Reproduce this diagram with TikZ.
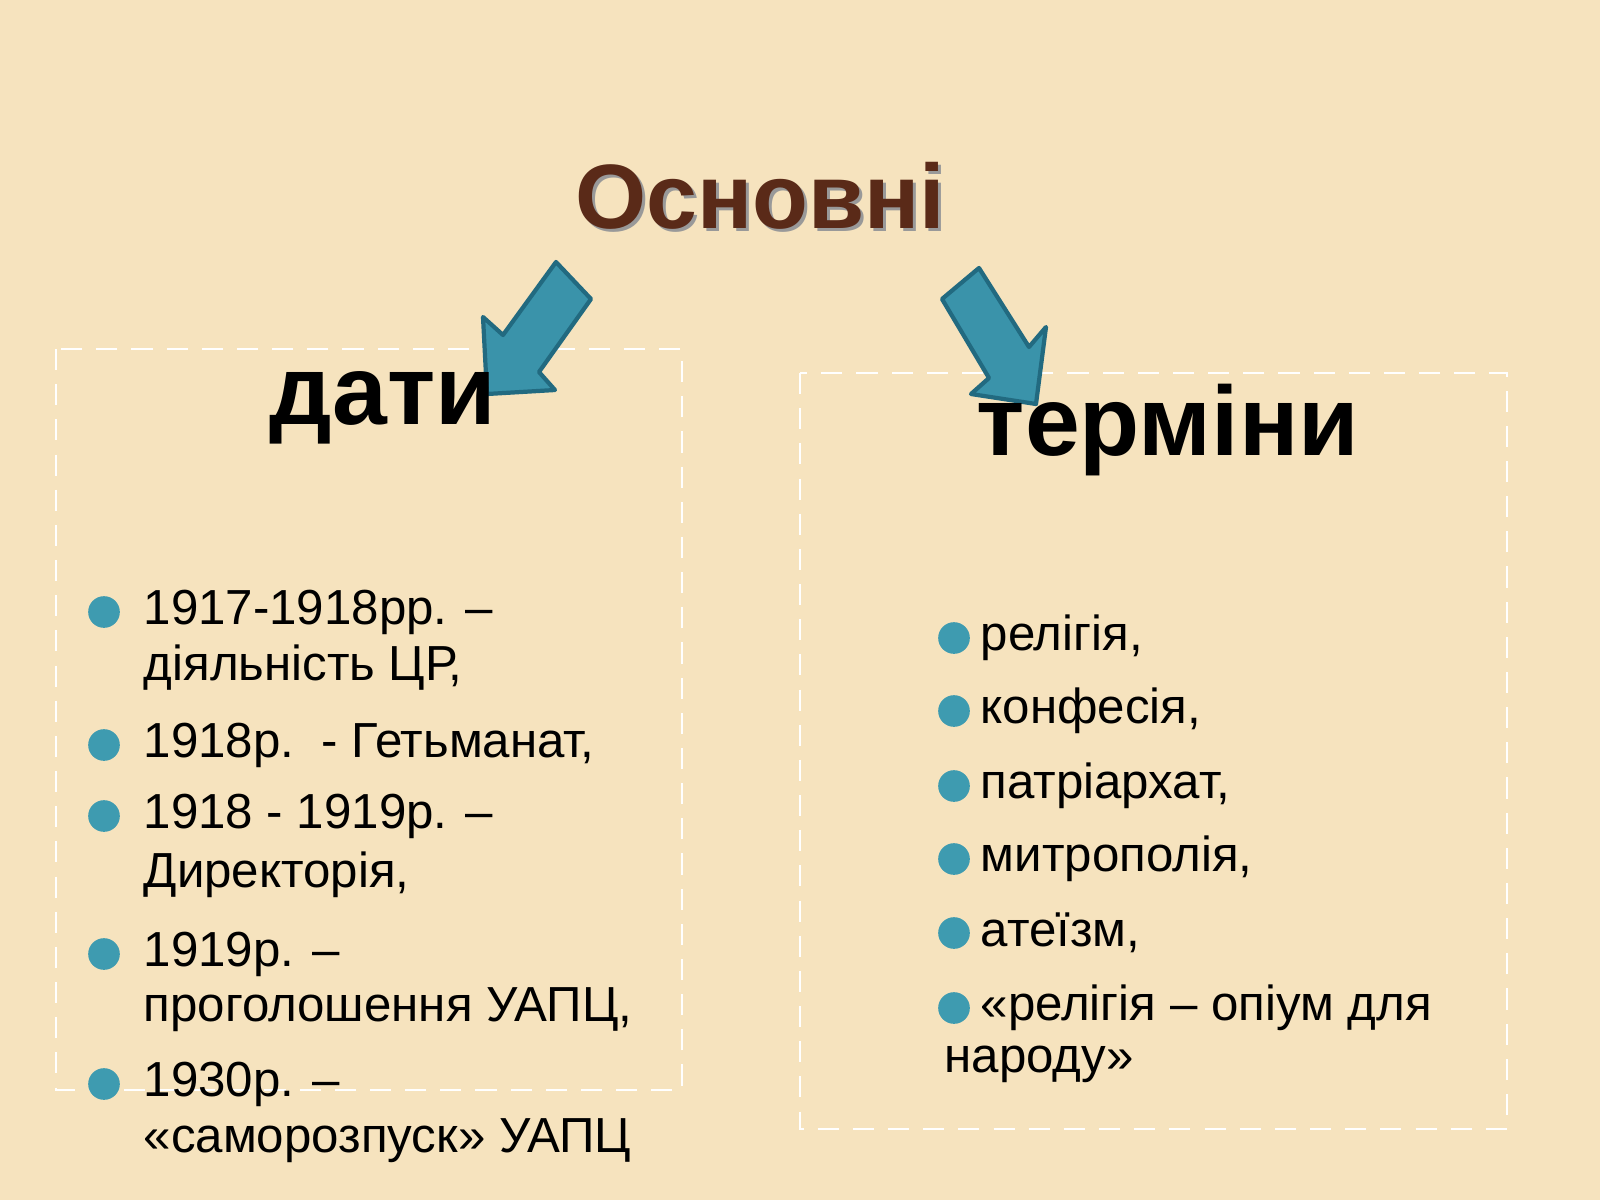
\documentclass[tikz,border=0pt]{standalone}
\usepackage{fontspec}
\setmainfont{Liberation Sans}
\definecolor{bg}{HTML}{F6E3BE}
\definecolor{arr}{HTML}{3A93AA}
\definecolor{arrd}{HTML}{226A80}
\definecolor{ttl}{HTML}{5A2A18}
\definecolor{bul}{HTML}{3E9BB0}
\begin{document}
\begin{tikzpicture}[x=0.01cm,y=-0.01cm,
  item/.style={anchor=west,inner sep=0pt,font=\fontsize{14}{16}\selectfont},
  dot/.style={circle,fill=bul,inner sep=0pt,minimum size=9},
  frame/.style={draw=white,dashed,line width=0.8pt,dash pattern=on 6pt off 4pt},
  arrow/.style={fill=arr,draw=arrd,line width=1.2pt,line join=round}]
\fill[bg] (0,0) rectangle (1600,1200);
\useasboundingbox (0,0) rectangle (1600,1200);
\node[text=black!40,font=\bfseries\fontsize{26}{30}\selectfont] at (763,199) {Основні};
\node[text=ttl,font=\bfseries\fontsize{26}{30}\selectfont] (t) at (760,196) {Основні};
\draw[frame] (56,349) rectangle (682,1090);
\draw[frame] (800,373) rectangle (1507,1129);
\draw[arrow] (556,262) -- (591,299) -- (539,372) -- (555,390) -- (487,394) -- (483,317) -- (503,335) -- cycle;
\draw[arrow] (979,268) -- (942,299) -- (989,378) -- (971,394) -- (1036,404) -- (1046,327) -- (1029,347) -- cycle;
\node[font=\bfseries\fontsize{28}{30}\selectfont] (d) at (383,408) {дати};
\node[font=\bfseries\fontsize{28}{30}\selectfont] (m) at (1168,430) {терміни};
\foreach \y/\t/\b in {612/{1917-1918рр. –}/1,668/{діяльність ЦР,}/0,745/{1918р.\ \ - Гетьманат,}/1,816/{1918 - 1919р. –}/1,875/{Директорія,}/0,954/{1919р. –}/1,1010/{проголошення УАПЦ,}/0,1084/{1930р. –}/1,1141/{«саморозпуск» УАПЦ}/0}{
  \node[item] at (143,\y) {\t};
  \ifnum\b=1 \node[dot] at (104,\y) {};\fi
}
\foreach \y/\t in {638/{релігія,},711/{конфесія,},786/{патріархат,},859/{митрополія,},933/{атеїзм,},1008/{«релігія – опіум для}}{
  \node[item] at (980,\y) {\t};
  \node[dot] at (954,\y) {};
}
\node[item] at (944,1064) {народу»};
\end{tikzpicture}
\end{document}
